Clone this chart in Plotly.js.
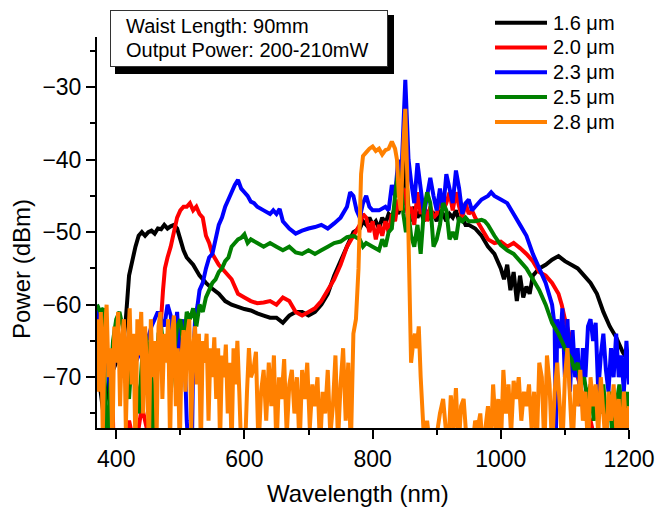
<!DOCTYPE html>
<html>
<head>
<meta charset="utf-8">
<script src="https://cdn.plot.ly/plotly-3.0.1.min.js"></script>
<style>html,body{margin:0;padding:0;background:#fff;}#chart{width:656px;height:511px;}</style>
</head>
<body>
<div id="chart"></div>
<script>
// Series labels and colours
const seriesNames = ["1.6 μm", "2.0 μm", "2.3 μm", "2.5 μm", "2.8 μm"];
const seriesColors = ["#000000", "#ff0000", "#0000ff", "#008000", "#ff8000"];
const boxLines = ["Waist Length: 90mm", "Output Power: 200-210mW"];

// [wavelength nm, power dBm]
const s16 = [[370,-68],[380,-75],[390,-70],[400,-68],[410,-66],[415,-62],[420,-56],[425,-54],[430,-52],[435,-50.5],[440,-50],[445,-50.5],[450,-50],[455,-49.8],[460,-50.2],[465,-49.5],[470,-49.6],[475,-49],[480,-49.5],[485,-49.2],[490,-49],[495,-49.5],[500,-51],[505,-52.5],[510,-53.5],[520,-54.5],[530,-56],[540,-57],[550,-57.8],[560,-58.5],[570,-59.5],[580,-60],[590,-60.3],[600,-60.6],[610,-60.8],[620,-61.2],[630,-61.5],[640,-61.8],[650,-61.8],[660,-62.5],[665,-62],[670,-61.5],[680,-61],[690,-61],[700,-61.5],[710,-61],[720,-60],[730,-58.5],[740,-56],[750,-54],[760,-52],[770,-50],[780,-49.5],[785,-48.5],[790,-49],[795,-48],[800,-49],[805,-48.5],[810,-49.5],[815,-48],[820,-48.8],[825,-47.5],[830,-48],[835,-46.5],[840,-47.5],[845,-46],[851,-40],[856,-47],[860,-48.5],[865,-46.5],[870,-48],[875,-47],[880,-48.5],[885,-47],[890,-48],[895,-47.5],[900,-48.5],[905,-47],[910,-47.5],[915,-48.5],[920,-47.5],[925,-48],[930,-47],[935,-48.5],[940,-48],[945,-49],[950,-49],[960,-49.5],[970,-50.5],[980,-52],[990,-53],[1000,-55],[1005,-56.5],[1010,-54.5],[1015,-58],[1020,-55.5],[1025,-59.5],[1030,-56],[1035,-59],[1040,-57.5],[1045,-58.5],[1050,-56],[1055,-55.5],[1060,-55],[1070,-54.5],[1080,-53.8],[1090,-53.3],[1100,-54],[1110,-54.5],[1120,-55],[1130,-56],[1140,-57],[1150,-58.5],[1160,-61],[1170,-63],[1180,-64.5],[1190,-66.5],[1200,-68]];

const s20 = [[370,-80],[380,-78],[390,-80],[393,-68],[396,-80],[400,-78],[410,-80],[420,-76],[430,-80],[440,-74],[450,-78],[460,-72],[465,-66],[470,-62],[473,-58],[476,-55],[480,-53.5],[485,-52],[490,-50],[495,-48],[500,-47],[505,-46.5],[510,-46.5],[515,-46],[520,-47],[525,-46.5],[530,-47.5],[535,-48],[540,-50.5],[545,-51.5],[550,-53],[560,-54.5],[570,-55.5],[580,-56.5],[590,-58.5],[600,-59],[610,-59.5],[620,-59.8],[630,-59.7],[640,-59.5],[650,-60],[660,-59],[670,-59.5],[680,-61],[690,-61.5],[700,-61],[710,-60.5],[720,-59.5],[730,-58],[740,-56.5],[750,-54.5],[760,-52],[770,-50.5],[780,-49],[785,-47.5],[790,-48],[795,-50],[800,-48.5],[805,-51],[810,-49],[815,-50.5],[820,-48.5],[825,-50],[830,-47.5],[835,-48.5],[840,-45.5],[845,-47],[850,-44],[855,-48],[860,-46.5],[865,-49],[870,-44.5],[875,-47.5],[880,-46],[885,-48.5],[890,-46.5],[895,-48],[900,-47.5],[905,-45.5],[910,-47],[915,-46],[920,-44.5],[925,-47],[930,-44.5],[935,-46.5],[940,-48],[945,-46],[950,-47.5],[955,-47],[960,-48],[970,-49.5],[980,-51],[990,-51.5],[1000,-51.3],[1010,-52],[1020,-51.5],[1030,-52.2],[1040,-53],[1050,-54],[1060,-55.5],[1070,-56],[1080,-57],[1090,-58.5],[1095,-60],[1100,-62],[1105,-63.5],[1110,-65],[1115,-68],[1120,-70],[1125,-71.5],[1130,-74],[1140,-76],[1150,-80]];

const s23 = [[370,-60],[375,-64],[380,-68],[385,-65],[390,-72],[400,-66],[410,-70],[420,-64],[430,-68],[440,-66],[450,-64.5],[455,-63],[460,-62],[465,-61],[470,-62],[475,-63],[480,-60],[485,-61.5],[490,-66],[495,-61],[500,-70],[505,-62],[510,-76],[513,-80],[518,-80],[520,-68],[523,-62],[527,-60],[530,-58],[535,-57],[540,-55],[545,-53.5],[550,-53],[555,-51],[560,-49],[565,-48],[570,-46.5],[575,-45.5],[580,-44.5],[585,-43.5],[590,-42.8],[595,-44],[600,-44.5],[605,-45],[610,-45.8],[615,-46],[620,-46.5],[630,-47],[640,-47.5],[645,-47],[650,-47.5],[655,-46.8],[660,-48.5],[670,-49.5],[680,-50.2],[690,-49.8],[700,-49.5],[710,-49.3],[720,-49],[730,-49.5],[740,-48.8],[750,-48],[760,-46.5],[765,-44.5],[770,-45],[775,-47],[780,-48],[785,-46],[790,-45],[795,-46.5],[800,-47],[810,-47],[820,-46.5],[825,-47],[830,-43.5],[835,-45],[840,-40],[845,-42],[851,-29],[856,-40],[860,-43],[865,-46],[870,-40.5],[875,-44],[880,-47.5],[885,-45],[890,-42.5],[895,-45],[900,-47],[905,-44],[910,-47],[915,-42],[920,-44],[925,-46],[930,-41.5],[935,-44],[940,-47.5],[945,-46],[950,-45.5],[955,-47],[960,-46.5],[970,-45.5],[980,-45],[985,-44.5],[990,-45],[1000,-45.5],[1010,-46],[1020,-47.5],[1030,-49],[1040,-50.5],[1050,-53],[1060,-55],[1070,-57],[1080,-60],[1084,-63],[1086,-78],[1088,-62],[1092,-66],[1096,-60.5],[1100,-70],[1104,-62],[1108,-72],[1112,-63.5],[1116,-70],[1120,-66],[1124,-74],[1128,-66],[1132,-70],[1136,-63],[1140,-62],[1144,-65],[1148,-62.5],[1152,-72],[1156,-67],[1160,-64],[1164,-69],[1168,-72],[1172,-66],[1176,-70],[1180,-64],[1184,-70],[1188,-67],[1192,-72],[1196,-65],[1200,-71]];

const s25 = [[370,-60],[375,-61],[380,-60.5],[383,-75],[386,-80],[390,-72],[395,-65],[400,-62],[405,-61],[410,-63],[415,-68],[420,-73],[425,-66],[430,-70],[435,-75],[440,-68],[445,-64],[450,-66],[455,-70],[458,-80],[462,-70],[466,-64],[470,-63],[475,-67],[480,-65],[485,-72],[490,-67],[495,-63],[500,-62],[505,-66],[510,-61],[515,-62],[520,-60.5],[525,-63],[530,-60],[535,-61],[540,-59],[545,-58],[550,-57],[555,-56.5],[560,-55.5],[565,-55],[570,-54],[575,-53.5],[580,-52],[585,-51.5],[590,-51],[595,-50.8],[600,-50.3],[605,-51.5],[610,-51],[620,-51.5],[630,-52],[640,-51.5],[650,-52],[660,-52.5],[670,-52],[680,-52.8],[690,-53],[700,-52.5],[710,-53],[720,-52.5],[730,-52],[740,-51.5],[750,-51.3],[760,-50.7],[770,-50.5],[780,-51],[785,-52],[790,-51.5],[800,-52],[810,-52.5],[815,-51],[820,-52],[825,-50],[830,-49.5],[835,-45],[840,-41.5],[845,-44],[848,-47.5],[852,-50],[856,-47.5],[860,-50.5],[865,-52],[870,-49],[875,-53],[880,-47],[885,-44.5],[890,-46],[895,-52],[900,-51],[905,-49],[910,-46],[915,-47],[920,-51],[925,-50],[930,-51],[935,-48],[940,-48.5],[945,-48],[950,-48.5],[960,-48.5],[970,-48.3],[975,-48.5],[980,-49],[990,-50.5],[1000,-51.8],[1010,-52.5],[1020,-53],[1030,-54],[1040,-55],[1050,-56.5],[1060,-58],[1070,-60],[1080,-62.5],[1090,-64],[1100,-66],[1110,-67.5],[1115,-69],[1120,-68],[1125,-71],[1130,-70],[1135,-73],[1140,-71],[1145,-76],[1150,-72],[1155,-75],[1160,-71],[1165,-77],[1170,-72],[1175,-80],[1180,-74],[1185,-71],[1190,-76],[1195,-72],[1198,-80],[1200,-72]];

const s28 = [[370,-62],[373,-72],[376,-61],[379,-78],[382,-64],[385,-60],[388,-70],[391,-66],[394,-80],[397,-63],[400,-68],[403,-61],[406,-74],[409,-65],[412,-62],[415,-77],[418,-66],[421,-60.5],[424,-71],[427,-64],[430,-80],[433,-62],[436,-67],[439,-61],[442,-75],[445,-63],[448,-69],[451,-80],[454,-62],[457,-70],[460,-65],[463,-78],[466,-63],[469,-61],[472,-73],[475,-64],[478,-68],[481,-62],[484,-79],[487,-64],[490,-61.5],[493,-74],[496,-66],[499,-80],[502,-67],[505,-63.5],[508,-72],[511,-64],[514,-62],[517,-77],[520,-66],[523,-63],[526,-71],[529,-64],[532,-80],[535,-65],[538,-68],[541,-64],[544,-76],[547,-66],[550,-70],[553,-64.5],[556,-73],[559,-66],[562,-79],[565,-67],[568,-70],[571,-65.5],[574,-75],[577,-68],[580,-80],[583,-66],[586,-71],[589,-65],[592,-72],[595,-80],[598,-80],[601,-80],[604,-72],[607,-66],[610,-70],[614,-69],[618,-66.5],[622,-80],[626,-72],[630,-69],[634,-76],[638,-68],[642,-74],[646,-67],[650,-80],[654,-70],[658,-73],[662,-67.5],[666,-78],[670,-71],[674,-69],[678,-75],[682,-70],[686,-80],[690,-69],[694,-73],[698,-68],[702,-77],[706,-71],[710,-74],[714,-70],[718,-80],[722,-72],[726,-75],[730,-69],[734,-78],[738,-74],[742,-67],[746,-79],[750,-71],[754,-66],[758,-76],[762,-68],[766,-80],[770,-64],[774,-62],[778,-55],[782,-42],[785,-39.5],[790,-39],[795,-38.5],[800,-38.2],[805,-38.8],[810,-38.5],[815,-39.3],[820,-38.7],[825,-38.5],[830,-37.5],[835,-38.5],[838,-40],[841,-45],[844,-47],[848,-38],[851,-33],[854,-42],[857,-55],[860,-68],[863,-65.5],[866,-64],[869,-66],[872,-63],[875,-70],[878,-75],[881,-80],[885,-76],[890,-80],[895,-80],[900,-78],[905,-75],[910,-73],[914,-77],[918,-80],[922,-72.5],[926,-77],[930,-71.5],[934,-80],[938,-74],[942,-73],[946,-78],[950,-80],[955,-80],[960,-76],[964,-77],[968,-75],[972,-80],[976,-77],[980,-74],[984,-80],[988,-71],[992,-77],[996,-73],[1000,-80],[1004,-69],[1008,-75],[1012,-71],[1016,-78],[1020,-70.5],[1024,-73],[1028,-70],[1032,-76],[1036,-72],[1040,-74],[1044,-71],[1048,-77],[1052,-72],[1056,-80],[1060,-68],[1064,-70],[1068,-80],[1072,-67],[1076,-71],[1080,-80],[1084,-72],[1088,-68],[1092,-74],[1096,-80],[1100,-70],[1104,-66],[1108,-73],[1112,-80],[1116,-71],[1120,-74],[1124,-69],[1128,-76],[1132,-72],[1136,-80],[1140,-70],[1144,-74],[1148,-71],[1152,-78],[1156,-70],[1160,-75],[1164,-80],[1168,-72],[1172,-76],[1176,-71],[1180,-77],[1184,-73],[1188,-80],[1192,-72],[1196,-78],[1200,-74]];

const allSeries = [s16, s20, s23, s25, s28];

// Layout geometry (pixels)
const W = 656, H = 511;
const M = {l: 97, r: 27, t: 37, b: 83};
const PW = W - M.l - M.r, PH = H - M.t - M.b;
const px = x => (x - M.l) / PW;
const py = y => (H - M.b - y) / PH;

const FONT = "Liberation Sans, Arial, sans-serif";

const traces = allSeries.map((s, i) => ({
  type: "scatter",
  mode: "lines",
  name: seriesNames[i],
  x: s.map(p => p[0]),
  y: s.map(p => p[1]),
  line: {color: seriesColors[i], width: 4, simplify: false},
  hoverinfo: "skip"
}));

const shapes = [];
const annotations = [];

// drop shadow of the text box: drawn as thick black lines along bottom and right edges
shapes.push({type: "line", xref: "paper", yref: "paper", x0: px(115), x1: px(394), y0: py(70.5), y1: py(70.5),
  line: {color: "#000000", width: 7}, layer: "above"});
shapes.push({type: "line", xref: "paper", yref: "paper", x0: px(391), x1: px(391), y0: py(74), y1: py(15),
  line: {color: "#000000", width: 6}, layer: "above"});
// white text box
annotations.push({text: " ", xref: "paper", yref: "paper", x: px(110), y: py(10),
  xanchor: "left", yanchor: "top", showarrow: false, width: 276, height: 55,
  bgcolor: "#ffffff", bordercolor: "#333333", borderwidth: 1, borderpad: 0, font: {size: 10}});
const boxY = [26, 50];
boxLines.forEach((t, i) => annotations.push({
  text: t, xref: "paper", yref: "paper", x: px(124), y: py(boxY[i]),
  xanchor: "left", yanchor: "middle", showarrow: false,
  font: {family: FONT, size: 20, color: "#000"}
}));

// legend
const legY = [22.7, 47.5, 72.3, 97, 122];
seriesNames.forEach((n, i) => {
  shapes.push({type: "line", xref: "paper", yref: "paper", x0: px(495), x1: px(547), y0: py(legY[i]), y1: py(legY[i]),
    line: {color: seriesColors[i], width: 4}, layer: "above"});
  annotations.push({text: n, xref: "paper", yref: "paper", x: px(551), y: py(legY[i]),
    xanchor: "left", yanchor: "middle", showarrow: false,
    font: {family: FONT, size: 20, color: "#000"}});
});

// axis titles
annotations.push({text: "Wavelength (nm)", xref: "paper", yref: "paper", x: px(358), y: py(493),
  xanchor: "center", yanchor: "middle", showarrow: false, font: {family: FONT, size: 24, color: "#000"}});
annotations.push({text: "Power (dBm)", xref: "paper", yref: "paper", x: px(21), y: py(269), textangle: -90,
  xanchor: "center", yanchor: "middle", showarrow: false, font: {family: FONT, size: 24, color: "#000"}});

const axisCommon = {
  showgrid: false, zeroline: false, showline: true, linewidth: 2, linecolor: "#000",
  ticks: "outside", ticklen: 9, tickwidth: 2, tickcolor: "#000",
  tickfont: {family: FONT, size: 23, color: "#000"}
};

const layout = {
  width: W, height: H,
  margin: M,
  paper_bgcolor: "#fff", plot_bgcolor: "#fff",
  showlegend: false,
  font: {family: FONT, color: "#000"},
  xaxis: Object.assign({}, axisCommon, {
    range: [370, 1200], tick0: 400, dtick: 200,
    minor: {tick0: 400, dtick: 100, ticks: "outside", ticklen: 5, tickwidth: 2, tickcolor: "#000", showgrid: false}
  }),
  yaxis: Object.assign({}, axisCommon, {
    range: [-77, -23.1], tick0: -30, dtick: 10,
    minor: {tick0: -30, dtick: 5, ticks: "outside", ticklen: 5, tickwidth: 2, tickcolor: "#000", showgrid: false}
  }),
  shapes: shapes,
  annotations: annotations
};

Plotly.newPlot("chart", traces, layout, {displayModeBar: false, staticPlot: true});
</script>
</body>
</html>
